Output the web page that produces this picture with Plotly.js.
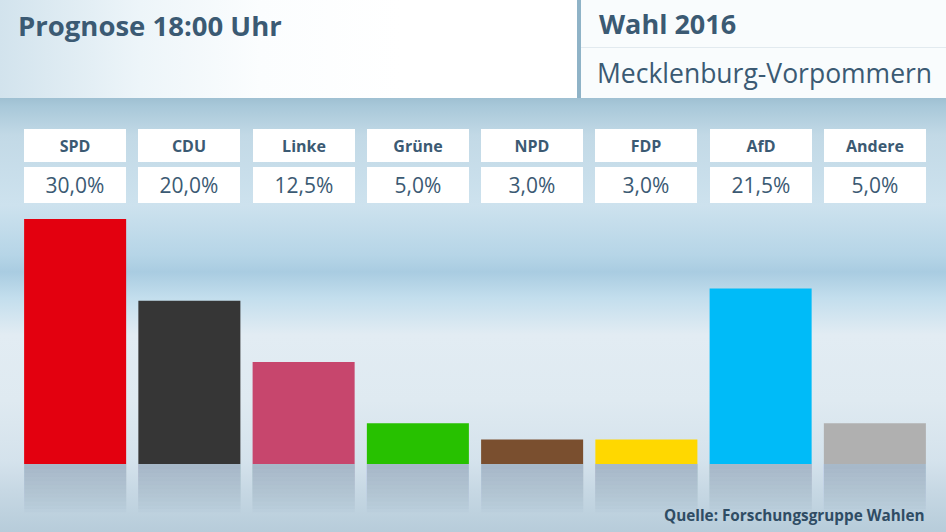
<!DOCTYPE html>
<html>
<head>
<meta charset="utf-8">
<script src="https://cdn.plot.ly/plotly-3.0.1.min.js"></script>
<style>
  html, body { margin:0; padding:0; width:946px; height:532px; overflow:hidden; }
  body {
    background: linear-gradient(to bottom,
      #9fc0d2 0px, #9fc0d2 98px, #a8c8d9 106px, #c2d9e6 135px, #cde2ee 205px,
      #b6d5e7 255px, #a9cce1 272px, #c3deed 298px, #e2ecf3 335px, #dfeaf1 400px,
      #d4e2ec 462px, #c7d8e4 490px, #bdd1de 515px, #b7ccda 532px);
    position: relative;
  }
  #hdr { position:absolute; left:0; top:0; width:946px; height:98px;
    background: linear-gradient(to right, #d2e3ed 0px, #edf5f9 140px, #fbfdfe 260px, #ffffff 400px); }
  #hdrR { position:absolute; left:577px; top:0; width:369px; height:98px; background:#f9fcfd; }
  #div1 { position:absolute; left:577px; top:0; width:4px; height:98px; background:#8fb3c7; }
  #div2 { position:absolute; left:581px; top:47px; width:365px; height:1px; background:#e2eaef; }
  #chart { position:absolute; left:0; top:0; width:946px; height:532px; }
</style>
</head>
<body>
<div id="hdr"></div>
<div id="hdrR"></div>
<div id="div1"></div>
<div id="div2"></div>
<div id="chart"></div>
<script>
// ---- data ----
var parties = ["SPD", "CDU", "Linke", "Grüne", "NPD", "FDP", "AfD", "Andere"];
var shares  = [30.0, 20.0, 12.5, 5.0, 3.0, 3.0, 21.5, 5.0];
var colors  = ["#e3000f", "#363636", "#c7466d", "#27c100", "#7a4f2f", "#ffd800", "#00bbf8", "#b0b0b0"];
var valueLabels = ["30,0%", "20,0%", "12,5%", "5,0%", "3,0%", "3,0%", "21,5%", "5,0%"];
var titleText = "Prognose 18:00 Uhr";
var headText = "Wahl 2016";
var regionText = "Mecklenburg-Vorpommern";
var sourceText = "Quelle: Forschungsgruppe Wahlen";

// ---- layout helpers ----
var W = 946, H = 532;
var M = {l: 18, r: 14, t: 100, b: 12};
var PW = W - M.l - M.r, PH = H - M.t - M.b;
function px(x) { return (x - M.l) / PW; }
function py(y) { return (H - M.b - y) / PH; }

var txtColor = "#3b5a73";
var fontFam = "'Open Sans', 'DejaVu Sans', sans-serif";

var traces = [{
  type: "bar", x: parties, y: shares,
  marker: {color: colors, line: {width: 0}},
  hoverinfo: "skip", showlegend: false
}];

// soft reflection layers below the baseline (fading downward)
var reflDepths = [0.6, 1.1, 1.6, 2.1, 2.6, 3.1, 3.6, 4.1, 4.6, 5.1, 5.5, 5.9];
reflDepths.forEach(function (d) {
  traces.push({
    type: "bar", x: parties, y: parties.map(function () { return -d; }),
    marker: {color: "rgba(118,143,170,0.045)", line: {width: 0}},
    hoverinfo: "skip", showlegend: false
  });
});

var annotations = [];
parties.forEach(function (p, i) {
  annotations.push({
    xref: "x", yref: "paper", x: p, y: py(145.5), yanchor: "middle",
    text: "<b>" + p + "</b>", showarrow: false,
    bgcolor: "#ffffff", width: 102, height: 33, borderpad: 0, borderwidth: 0,
    font: {family: fontFam, size: 16, color: txtColor}
  });
  annotations.push({
    xref: "x", yref: "paper", x: p, y: py(185), yanchor: "middle",
    text: valueLabels[i], showarrow: false,
    bgcolor: "#ffffff", width: 102, height: 36, borderpad: 0, borderwidth: 0,
    font: {family: fontFam, size: 21, color: txtColor, weight: 500}
  });
});
annotations.push({
  xref: "paper", yref: "paper", x: px(597), y: py(24), xanchor: "left", yanchor: "middle",
  text: "<b>" + headText + "</b>", showarrow: false,
  font: {family: fontFam, size: 27, color: txtColor}
});
annotations.push({
  xref: "paper", yref: "paper", x: px(595), y: py(73), xanchor: "left", yanchor: "middle",
  text: regionText, showarrow: false,
  font: {family: fontFam, size: 26.5, color: txtColor}
});
annotations.push({
  xref: "paper", yref: "paper", x: px(927), y: py(515), xanchor: "right", yanchor: "middle",
  text: "<b>" + sourceText + "</b>", showarrow: false,
  font: {family: fontFam, size: 15.3, color: "#2f4c64"}
});

var layout = {
  width: W, height: H,
  margin: M,
  paper_bgcolor: "rgba(0,0,0,0)", plot_bgcolor: "rgba(0,0,0,0)",
  title: {text: "<b>" + titleText + "</b>", xref: "container", yref: "container",
    x: 18 / W, xanchor: "left", y: 1 - 26 / H, yanchor: "middle",
    font: {family: fontFam, size: 27.5, color: txtColor}},
  barmode: "overlay", bargap: 0.107,
  xaxis: {visible: false, fixedrange: true},
  yaxis: {visible: false, range: [-56 / (245 / 30), 364 / (245 / 30)], fixedrange: true},
  annotations: annotations,
  showlegend: false
};

Plotly.newPlot("chart", traces, layout, {displayModeBar: false, staticPlot: true});
</script>
</body>
</html>
